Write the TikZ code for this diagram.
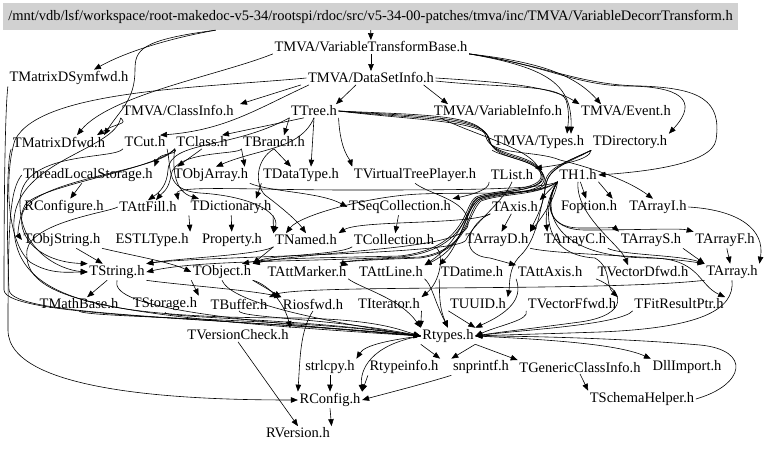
\documentclass[tikz,border=0pt]{standalone}
\usepackage{fontspec}
\setmainfont{Liberation Serif}
\usetikzlibrary{arrows.meta}
\begin{document}
\begin{tikzpicture}[x=1pt,y=-1pt,
 n/.style={font=\fontsize{14.5}{16}\selectfont, inner sep=1.5pt},
 e/.style={-{Triangle[length=7pt,width=5.5pt]}, line width=0.6pt},
]
\useasboundingbox (0,0) rectangle (768,449);
\node[n, fill=black!18, minimum width=735pt, minimum height=27pt, inner sep=0pt] (t0) at (370.5,16.5) {/mnt/vdb/lsf/workspace/root-makedoc-v5-34/rootspi/rdoc/src/v5-34-00-patches/tmva/inc/TMVA/VariableDecorrTransform.h};
\node[n] (vtb) at (371,47) {TMVA/VariableTransformBase.h};
\node[n] (symf) at (69,78) {TMatrixDSymfwd.h};
\node[n] (dsi) at (371,78) {TMVA/DataSetInfo.h};
\node[n] (cinfo) at (178,111) {TMVA/ClassInfo.h};
\node[n] (tree) at (314,111) {TTree.h};
\node[n] (vinfo) at (498,111) {TMVA/VariableInfo.h};
\node[n] (event) at (626,111) {TMVA/Event.h};
\node[n] (mdfwd) at (59,142) {TMatrixDfwd.h};
\node[n] (tcut) at (145,142) {TCut.h};
\node[n] (tclass) at (202,142) {TClass.h};
\node[n] (tbranch) at (274,142) {TBranch.h};
\node[n] (types) at (539,142) {TMVA/Types.h};
\node[n] (tdir) at (630,142) {TDirectory.h};
\node[n] (tls) at (88,175) {ThreadLocalStorage.h};
\node[n] (objarr) at (211,175) {TObjArray.h};
\node[n] (dtype) at (301,175) {TDataType.h};
\node[n] (vtp) at (415,175) {TVirtualTreePlayer.h};
\node[n] (tlist) at (512,175) {TList.h};
\node[n] (th1) at (578,175) {TH1.h};
\node[n] (rconfigure) at (64,207) {RConfigure.h};
\node[n] (attfill) at (148,207) {TAttFill.h};
\node[n] (tdict) at (231,207) {TDictionary.h};
\node[n] (seqcoll) at (400,207) {TSeqCollection.h};
\node[n] (taxis) at (515,207) {TAxis.h};
\node[n] (foption) at (589,207) {Foption.h};
\node[n] (arrayi) at (658,207) {TArrayI.h};
\node[n] (objstr) at (62,240) {TObjString.h};
\node[n] (estl) at (152,240) {ESTLType.h};
\node[n] (prop) at (232,240) {Property.h};
\node[n] (tnamed) at (306,240) {TNamed.h};
\node[n] (tcoll) at (394,240) {TCollection.h};
\node[n] (arrayd) at (497,240) {TArrayD.h};
\node[n] (arrayc) at (575,240) {TArrayC.h};
\node[n] (arrays) at (651,240) {TArrayS.h};
\node[n] (arrayf) at (725,240) {TArrayF.h};
\node[n] (tstring) at (117,272) {TString.h};
\node[n] (tobject) at (222,272) {TObject.h};
\node[n] (attmarker) at (307,272) {TAttMarker.h};
\node[n] (attline) at (391,272) {TAttLine.h};
\node[n] (tdatime) at (472,272) {TDatime.h};
\node[n] (attaxis) at (550,272) {TAttAxis.h};
\node[n] (vdfwd) at (643,272) {TVectorDfwd.h};
\node[n] (tarray) at (732,272) {TArray.h};
\node[n] (mathbase) at (79,304) {TMathBase.h};
\node[n] (storage) at (165,304) {TStorage.h};
\node[n] (buffer) at (239,304) {TBuffer.h};
\node[n] (riosfwd) at (313,304) {Riosfwd.h};
\node[n] (iterator) at (389,304) {TIterator.h};
\node[n] (uuid) at (478,304) {TUUID.h};
\node[n] (vffwd) at (572,304) {TVectorFfwd.h};
\node[n] (fitres) at (679,304) {TFitResultPtr.h};
\node[n] (vcheck) at (238,335) {TVersionCheck.h};
\node[n] (rtypes) at (448,336) {Rtypes.h};
\node[n] (strlcpy) at (330,367) {strlcpy.h};
\node[n] (rtypeinfo) at (404,367) {Rtypeinfo.h};
\node[n] (snprintf) at (481,367) {snprintf.h};
\node[n] (genclass) at (580,367) {TGenericClassInfo.h};
\node[n] (dllimport) at (687,367) {DllImport.h};
\node[n] (rconfig) at (330,400) {RConfig.h};
\node[n] (schema) at (642,399) {TSchemaHelper.h};
\node[n] (rversion) at (298,433) {RVersion.h};

% top
\draw[e] (t0) -- (vtb);
\draw[e] ([xshift=-155pt]t0.south) .. controls (160,40) and (120,55) .. ([xshift=25pt]symf.north);
\draw[e] ([xshift=-155pt]t0.south) .. controls (140,40) and (135,50) .. (135,70) .. controls (135,100) and (120,110) .. ([xshift=45pt]mdfwd.north);
% VTB
\draw[e] (vtb) -- (dsi);
\draw[e] (vtb.south west) .. controls (220,75) and (110,95) .. ([xshift=18pt]mdfwd.north);
\draw[e] (vtb.south east) .. controls (540,62) and (575,75) .. ([xshift=-25pt]event.north);
\draw[e] (vtb.south east) .. controls (545,65) and (575,85) .. (625,86) .. controls (680,86) and (700,100) .. (tdir.north east);
\draw[e] (vtb.south east) .. controls (545,65) and (580,85) .. (640,86) .. controls (700,88) and (722,100) .. (716,140) .. controls (712,165) and (640,172) .. (th1.east);
\draw[e] (vtb.south east) .. controls (550,68) and (572,85) .. ([xshift=32pt]types.north);
% DataSetInfo
\draw[e] (dsi.east) .. controls (500,82) and (550,86) .. (event.north west);
\draw[e] ([yshift=-3pt]dsi.east) .. controls (500,88) and (560,84) .. (566,100) .. controls (570,112) and (568,125) .. ([xshift=28pt]types.north);
\draw[e] ([xshift=-12pt]dsi.south east) -- ([xshift=-50pt]vinfo.north);
\draw[e] ([xshift=-70pt]dsi.south) -- ([xshift=62pt]cinfo.north);
\draw[e] ([xshift=-15pt]dsi.south) -- ([xshift=22pt]tree.north);
\draw[e] ([xshift=-62pt]dsi.south) .. controls (255,110) and (225,130) .. ([xshift=15pt]tcut.north);
\draw[e] (dsi.west) .. controls (200,88) and (40,90) .. (15,140) .. controls (5,170) and (5,240) .. (30,262) .. controls (50,275) and (70,272) .. (tstring.west);
% ClassInfo
\draw[e] (cinfo.south west) .. controls (128,125) and (118,122) .. ([xshift=38pt]mdfwd.north);
\draw[e] (cinfo.south west) .. controls (115,150) and (18,160) .. (14,220) .. controls (10,300) and (100,318) .. (300,318) .. controls (380,320) and (400,330) .. (rtypes.west);
% left edge ones
\draw[e] (symf.south west) .. controls (5,110) and (4,200) .. (4,290) .. controls (5,318) and (250,318) .. (rtypes.west);
\draw[e] (mdfwd.south west) .. controls (6,160) and (7,250) .. (9,290) .. controls (12,316) and (200,316) .. (rtypes.west);
\draw[e] (tls.west) .. controls (10,190) and (8,220) .. (8,330) .. controls (8,395) and (200,400) .. (rconfig.west);
\draw[e] (tls) -- (rconfigure);
% TCut
\draw[e] (tcut.south west) .. controls (115,160) and (22,150) .. (20,200) .. controls (18,250) and (60,270) .. (tstring.west);
\draw[e] (tcut.south east) .. controls (172,170) and (165,190) .. (200,193) .. controls (250,196) and (280,212) .. (tnamed.north west);
% TTree
\draw[e] ([xshift=-10pt]tree.south) -- ([xshift=20pt]tclass.north);
\draw[e] (tree.south west) -- ([xshift=10pt]tbranch.north);
\draw[e] (tree.south) -- ([xshift=10pt]dtype.north);
\draw[e] (tree.south) .. controls (300,150) and (260,148) .. ([xshift=5pt]objarr.north);
\draw[e] (tree.south east) .. controls (340,150) and (350,160) .. (vtp.north west);
\draw[e] (tree.south west) .. controls (230,150) and (170,140) .. (168,170) .. controls (167,185) and (160,192) .. (attfill.north);
\draw[e] (tree.east) .. controls (420,117) and (484,116) .. (488,138) .. controls (491,158) and (538,152) .. (543,176) .. controls (545,192) and (500,190) .. (478,198) .. controls (466,205) and (468,245) .. (attline.north east);
\draw[e] (tree.east) .. controls (420,119) and (486,118) .. (489,139) .. controls (492,160) and (540,154) .. (544,178) .. controls (546,194) and (502,192) .. (480,200) .. controls (466,210) and (470,250) .. (420,257) .. controls (350,260) and (335,262) .. (attmarker.north east);
\draw[e] (tree.east) .. controls (420,115) and (482,114) .. (486,137) .. controls (490,156) and (536,150) .. (560,160) .. controls (600,170) and (630,182) .. ([xshift=-5pt]arrayi.north);
\draw[e] (tree.east) .. controls (420,121) and (488,120) .. (490,141) .. controls (494,162) and (542,156) .. (545,180) .. controls (547,200) and (535,220) .. (arrayd.north east);
% TClass
\draw[e] (tclass.south west) .. controls (180,155) and (160,152) .. (tls.north east);
\draw[e] (tclass.south) -- ([xshift=5pt]objarr.north west);
\draw[e] (tclass.south west) .. controls (172,170) and (175,192) .. ([xshift=10pt]tdict.north west);
\draw[e] (tclass.south west) .. controls (160,172) and (30,178) .. (22,215) .. controls (18,238) and (40,262) .. (tstring.north west);
\draw[e] (tclass.south west) .. controls (155,170) and (40,185) .. (25,205) .. controls (18,220) and (18,235) .. (objstr.west);
% TBranch
\draw[e] (tbranch.south west) -- ([xshift=-5pt]objarr.north east);
\draw[e] (tbranch.south) -- ([xshift=-10pt]dtype.north);
\draw[e] (tbranch.south west) .. controls (240,155) and (175,150) .. (171,175) .. controls (169,190) and (162,193) .. ([xshift=8pt]attfill.north);
\draw[e] (tbranch.south) .. controls (255,160) and (255,185) .. (265,195) .. controls (285,210) and (298,222) .. (tnamed.north);
% TObjArray, TDataType, TVirtualTreePlayer
\draw[e] (objarr.south east) .. controls (270,192) and (320,192) .. (seqcoll.west);
\draw[e] (dtype.south west) -- ([xshift=25pt]tdict.north);
\draw[e] (vtp.south) .. controls (430,195) and (470,200) .. (468,225) .. controls (465,250) and (320,250) .. (tobject.north east);
% TList, TDirectory
\draw[e] (tlist.south west) .. controls (490,190) and (470,195) .. (seqcoll.north east);
\draw[e] (tlist.south) .. controls (505,200) and (472,225) .. (466,240) .. controls (460,255) and (200,256) .. (tstring.north east);
\draw[e] (tdir.south west) .. controls (590,160) and (560,165) .. (tlist.north east);
\draw[e] (tdir.south west) .. controls (570,160) and (548,168) .. (546,185) .. controls (545,196) and (470,192) .. (420,194) .. controls (370,196) and (300,215) .. ([xshift=-20pt]tnamed.north);
\draw[e] (tdir.south west) .. controls (570,161) and (548,166) .. (545,182) .. controls (545,195) and (490,192) .. (478,200) .. controls (466,210) and (460,245) .. (tdatime.north west);
\draw[e] (tdir.south west) .. controls (570,162) and (548,168) .. (546,185) .. controls (540,210) and (537,240) .. (520,256) .. controls (508,268) and (510,285) .. (uuid.north east);
% TMVA types / variableinfo bundle
\draw[e] (types.south west) .. controls (505,158) and (538,160) .. (542,176) .. controls (544,192) and (498,190) .. (477,198) .. controls (464,206) and (470,250) .. (400,257) .. controls (300,262) and (200,260) .. (tstring.east);
\draw[e] ([xshift=8pt]vinfo.south west) .. controls (487,140) and (538,150) .. (541,175) .. controls (543,191) and (496,189) .. (476,197) .. controls (463,205) and (468,248) .. (400,256) .. controls (320,258) and (270,258) .. ([xshift=20pt]tobject.north);
% TH1
\draw[e] (th1.south west) .. controls (540,190) and (450,190) .. (350,190) .. controls (250,190) and (175,185) .. (attfill.north east);
\draw[e] (th1.south west) .. controls (540,194) and (500,190) .. (479,199) .. controls (467,207) and (462,240) .. (attline.north east);
\draw[e] (th1.south west) .. controls (538,196) and (502,193) .. (481,201) .. controls (468,212) and (468,252) .. (420,258) .. controls (360,260) and (340,262) .. (attmarker.north east);
\draw[e] (th1.south west) -- (taxis.north east);
\draw[e] (th1) -- (foption);
\draw[e] (th1.south east) -- ([xshift=-15pt]arrayi.north west);
\draw[e] (th1.south west) .. controls (555,200) and (540,220) .. (arrayd.north east);
\draw[e] (th1.south west) .. controls (545,200) and (546,222) .. ([xshift=5pt]arrayc.north west);
\draw[e] (th1.south west) .. controls (545,200) and (545,228) .. (580,228) .. controls (600,228) and (615,228) .. (arrays.north west);
\draw[e] (th1.south west) .. controls (545,200) and (545,230) .. (585,230) .. controls (640,230) and (680,228) .. (arrayf.north west);
\draw[e] (th1.south west) .. controls (543,205) and (540,255) .. (595,258) .. controls (612,268) and (605,285) .. (vffwd.north east);
\draw[e] (th1.south) .. controls (575,215) and (620,245) .. ([xshift=-15pt]vdfwd.north);
\draw[e] (th1.south west) .. controls (543,205) and (545,257) .. (650,258) .. controls (700,258) and (698,285) .. (fitres.north east);
% TDictionary, TSeqCollection, TAxis
\draw[e] (tdict.south west) -- (estl.north east);
\draw[e] (tdict) -- (prop);
\draw[e] (tdict.south east) -- (tnamed.north west);
\draw[e] (seqcoll) -- (tcoll);
\draw[e] (taxis.south west) .. controls (470,225) and (360,220) .. (tnamed.north east);
\draw[e] (taxis.south west) .. controls (470,222) and (455,255) .. (490,258) -- (attaxis.north west);
\draw[e] (taxis) -- (arrayd);
% TArray*
\draw[e] (arrayd.south east) .. controls (560,255) and (650,255) .. (tarray.north west);
\draw[e] (arrayc.south east) .. controls (620,255) and (680,255) .. (tarray.north west);
\draw[e] (arrays.south east) -- (tarray.north west);
\draw[e] (arrayf) -- (tarray);
\draw[e] (arrayi.east) .. controls (740,210) and (765,230) .. (tarray.north east);
% TNamed, TCollection, TObjString
\draw[e] (tnamed.south west) -- (tobject.north east);
\draw[e] (tnamed.south west) .. controls (260,255) and (180,258) .. (tstring.north east);
\draw[e] (tcoll.south west) .. controls (340,255) and (270,255) .. (tobject.north east);
\draw[e] (tcoll.south east) .. controls (445,255) and (440,282) .. (iterator.north east);
\draw[e] (objstr) -- (tstring);
\draw[e] (objstr.south east) .. controls (130,255) and (170,262) .. (tobject.west);
% TObject, TString
\draw[e] (tobject.south west) -- (storage.north east);
\draw[e] (tobject.south east) -- (riosfwd.north west);
\draw[e] (tobject.south east) .. controls (270,285) and (285,305) .. (vcheck.north east);
\draw[e] (tobject.south) .. controls (230,300) and (300,318) .. (rtypes.west);
\draw[e] (tstring) -- (mathbase);
\draw[e] (tstring.south east) .. controls (180,285) and (250,290) .. (riosfwd.north west);
\draw[e] (tstring.south) .. controls (110,305) and (200,318) .. (rtypes.west);
\draw[e] (tarray.south west) .. controls (600,292) and (300,284) .. (buffer.north east);
% to Rtypes
\draw[e] (mathbase.south) .. controls (80,318) and (300,318) .. (rtypes.west);
\draw[e] (storage.south) .. controls (160,318) and (300,318) .. (rtypes.west);
\draw[e] (buffer.south) .. controls (240,318) and (330,318) .. (rtypes.west);
\draw[e] (attfill.west) .. controls (110,212) and (32,222) .. (27,250) .. controls (22,300) and (100,316) .. (rtypes.west);
\draw[e] (attmarker.south east) .. controls (360,288) and (400,298) .. (rtypes.north west);
\draw[e] (attline.south east) .. controls (432,285) and (434,300) .. (rtypes.north);
\draw[e] (tdatime.south west) .. controls (440,290) and (438,305) .. (rtypes.north);
\draw[e] (iterator.south east) -- (rtypes.north west);
\draw[e] (uuid.south west) -- (rtypes.north east);
\draw[e] (attaxis.south west) .. controls (522,295) and (515,310) .. (rtypes.north east);
\draw[e] (vffwd.south west) .. controls (530,320) and (500,325) .. (rtypes.east);
\draw[e] (vdfwd.south west) .. controls (625,290) and (630,315) .. (580,322) .. controls (520,330) and (500,332) .. (rtypes.east);
\draw[e] (fitres.south west) .. controls (620,325) and (520,330) .. (rtypes.east);
\draw[e] (tarray.south) .. controls (735,310) and (700,328) .. (600,332) .. controls (540,334) and (500,335) .. (rtypes.east);
% bottom
\draw[e] (riosfwd.south) .. controls (300,330) and (300,360) .. (rconfig.north west);
\draw[e] (vcheck.south) -- (rversion.north);
\draw[e] (rtypes.west) .. controls (370,345) and (360,370) .. (rconfig.north east);
\draw[e] (rtypes.west) .. controls (390,340) and (365,345) .. (strlcpy.north east);
\draw[e] (rtypes.south west) -- (rtypeinfo.north east);
\draw[e] (rtypes.south east) -- (snprintf.north west);
\draw[e] (rtypes.south east) -- (genclass.north west);
\draw[e] (rtypes.east) .. controls (560,340) and (620,345) .. (dllimport.north west);
\draw[e] (strlcpy) -- (rconfig);
\draw[e] (rtypeinfo.south west) -- (rconfig.north east);
\draw[e] (snprintf.south west) .. controls (420,385) and (380,395) .. (rconfig.east);
\draw[e] (genclass.south) -- (schema.north west);
\draw[e] (schema.east) .. controls (745,385) and (752,350) .. (700,345) .. controls (620,338) and (520,336) .. (rtypes.east);
\draw[e] (rconfig.south) -- (rversion.north east);
\end{tikzpicture}
\end{document}
